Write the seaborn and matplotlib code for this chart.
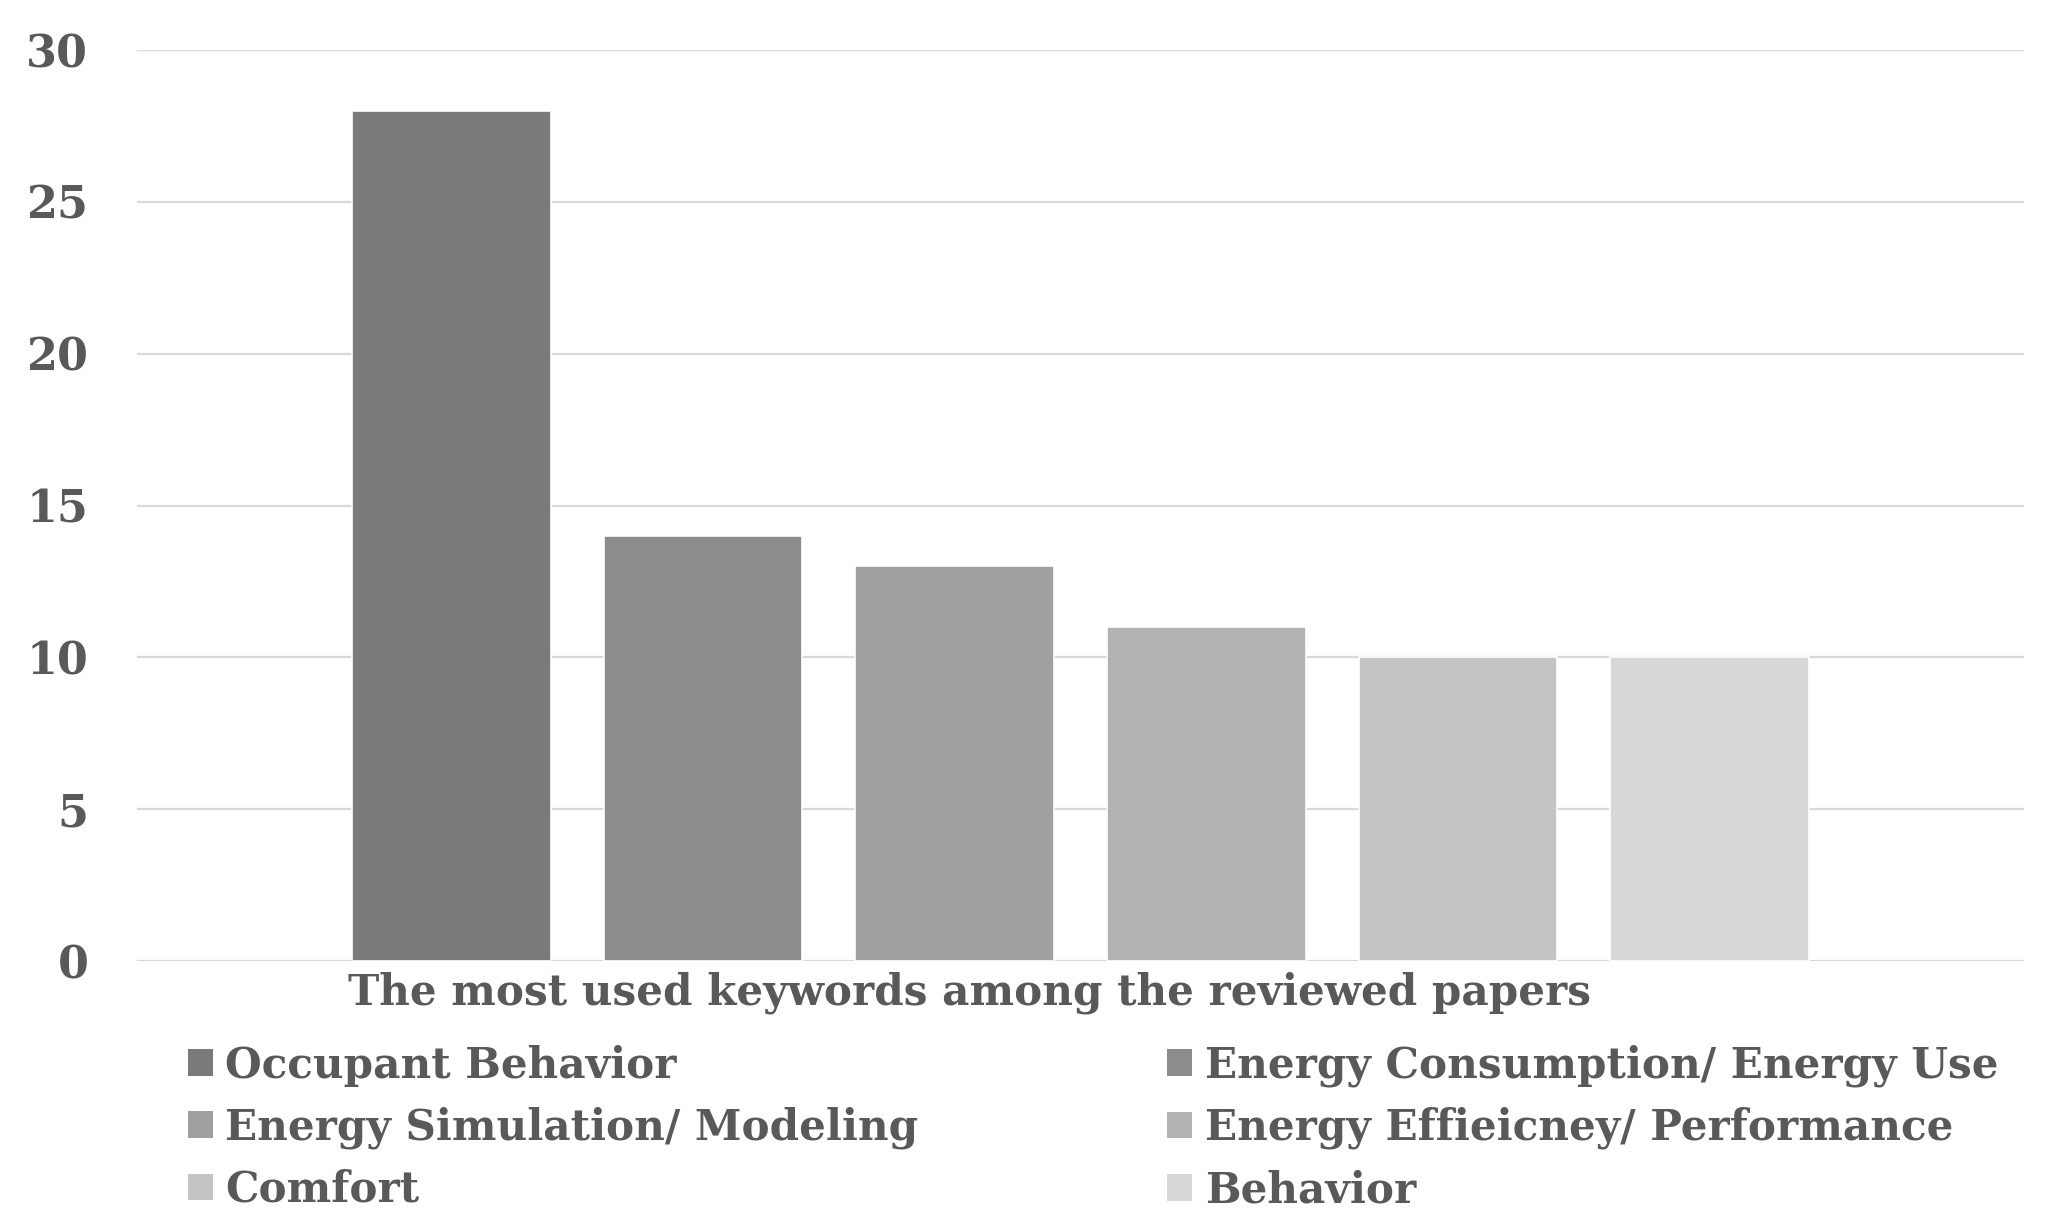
import matplotlib
matplotlib.use("Agg")
import matplotlib.pyplot as plt
import seaborn as sns
import pandas as pd
from matplotlib.patches import Patch

keywords = ["Occupant Behavior", "Energy Consumption/ Energy Use",
            "Energy Simulation/ Modeling", "Energy Effieicney/ Performance",
            "Comfort", "Behavior"]
counts = [28, 14, 13, 11, 10, 10]
bar_colors = ["#7a7a7a", "#8c8c8c", "#a0a0a0", "#b2b2b2", "#c4c4c4", "#d7d7d7"]
category = "The most used keywords among the reviewed papers"
yticks = [0, 5, 10, 15, 20, 25, 30]

sns.set_style("white")
plt.rcParams["font.family"] = ["DejaVu Serif"]
plt.rcParams["font.weight"] = "bold"
txt = "#595959"

df = pd.DataFrame({"cat": [category] * len(keywords), "kw": keywords, "n": counts})

fig = plt.figure(figsize=(20.54, 12.29), dpi=100)
ax = fig.add_axes([0.0667, 0.218, 0.9187, 0.7413])

sns.barplot(data=df, x="cat", y="n", hue="kw", hue_order=keywords,
            palette=bar_colors, width=0.8, gap=0.21, legend=False,
            edgecolor="white", linewidth=1.2, saturation=1, ax=ax, zorder=3)

ax.set_xlim(-0.5, 0.5)
ax.set_ylim(0, 30)
ax.set_yticks(yticks)
ax.yaxis.grid(True, color="#d9d9d9", linewidth=1.6, zorder=0)
ax.set_axisbelow(True)
for s in ax.spines.values():
    s.set_visible(False)
ax.tick_params(axis="y", length=0, pad=35, labelsize=32, labelcolor=txt)
ax.set_xticks([])
ax.set_xlabel("")
ax.set_ylabel("")

ax.text(0.441, -0.0345, category, transform=ax.transAxes, ha="center", va="center",
        fontsize=30.3, color=txt, fontweight="bold")

handles = [Patch(facecolor=c, edgecolor="none") for c in bar_colors]
order = [0, 2, 4, 1, 3, 5]
leg = fig.legend([handles[i] for i in order], [keywords[i] for i in order],
                 ncol=2, loc="upper left", bbox_to_anchor=(0.0913, 0.150),
                 frameon=False, fontsize=30.3, handlelength=0.6, handleheight=0.6,
                 handletextpad=0.3, labelspacing=0.47, columnspacing=5.9,
                 borderaxespad=0, borderpad=0)
for t in leg.get_texts():
    t.set_color(txt)

fig.savefig("out.png", dpi=100)
